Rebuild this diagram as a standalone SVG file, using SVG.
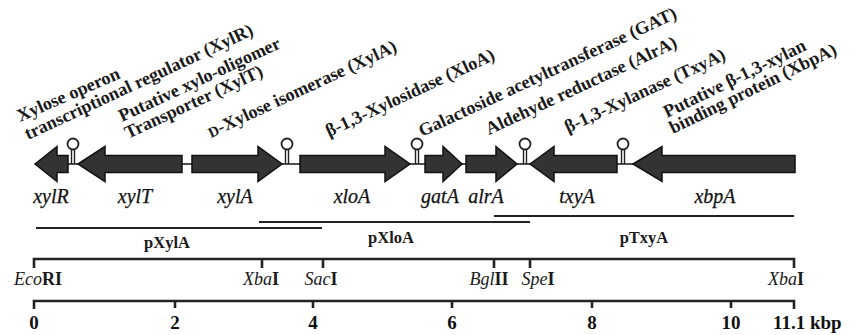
<svg xmlns="http://www.w3.org/2000/svg" width="860" height="335" viewBox="0 0 860 335">
<style>
.gene{fill:#333;stroke:#111;stroke-width:1.5;stroke-linejoin:miter}
.bb{stroke:#222;stroke-width:1.6;fill:none}
.term circle{fill:#fff;stroke:#222;stroke-width:1.8}
.term line{stroke:#222;stroke-width:1.4}
.lab{font-family:"Liberation Serif","Times New Roman",serif;font-weight:bold;font-size:18.2px;fill:#1a1a1a}
.gn{font-family:"Liberation Serif","Times New Roman",serif;font-style:italic;font-size:20px;fill:#111;stroke:#111;stroke-width:0.25}
.pl{font-family:"Liberation Serif","Times New Roman",serif;font-weight:bold;font-size:16.5px;fill:#1a1a1a}
.re{font-family:"Liberation Serif","Times New Roman",serif;font-size:18px;fill:#1a1a1a}
.re .b{font-weight:bold}
.num{font-family:"Liberation Serif","Times New Roman",serif;font-weight:bold;font-size:19px;fill:#111}
.ln{stroke:#222;stroke-width:2;fill:none}
.rl{stroke:#222;stroke-width:2.6;fill:none}
</style>

<g id="labels">
<text class="lab" transform="translate(20,122) rotate(-23.5)">Xylose operon</text>
<text class="lab" transform="translate(28,140) rotate(-25)">transcriptional regulator (XylR)</text>
<text class="lab" transform="translate(122,122) rotate(-25)">Putative xylo-oligomer</text>
<text class="lab" transform="translate(128,139) rotate(-25)">Transporter (XylT)</text>
<text class="lab" transform="translate(211,138) rotate(-25)"><tspan font-size="14.5">D</tspan>-Xylose isomerase (XylA)</text>
<text class="lab" transform="translate(329,137) rotate(-25)">β-1,3-Xylosidase (XloA)</text>
<text class="lab" transform="translate(422,137) rotate(-25)">Galactoside acetyltransferase (GAT)</text>
<text class="lab" transform="translate(489,135) rotate(-25)">Aldehyde reductase (AlrA)</text>
<text class="lab" transform="translate(568,133) rotate(-25)">β-1,3-Xylanase (TxyA)</text>
<text class="lab" transform="translate(667,118) rotate(-26)">Putative β-1,3-xylan</text>
<text class="lab" transform="translate(673,134) rotate(-26)">binding protein (XbpA)</text>
</g>

<g id="connectors">
<line class="bb" x1="66" y1="164" x2="80" y2="164"/>
<line class="bb" x1="181" y1="164" x2="193" y2="164"/>
<line class="bb" x1="281" y1="164" x2="301" y2="164"/>
<line class="bb" x1="409" y1="164" x2="426" y2="164"/>
<line class="bb" x1="461" y1="164" x2="467" y2="164"/>
<line class="bb" x1="516" y1="164" x2="531" y2="164"/>
<line class="bb" x1="616" y1="164" x2="634" y2="164"/>
</g>

<g id="terminators" class="term">
<g id="t1"><line x1="71.5" y1="149" x2="71.5" y2="164"/><line x1="74.5" y1="149" x2="74.5" y2="164"/><circle cx="73" cy="144" r="5.5"/></g>
<g id="t2"><line x1="285.5" y1="149" x2="285.5" y2="164"/><line x1="288.5" y1="149" x2="288.5" y2="164"/><circle cx="287" cy="144" r="5.5"/></g>
<g id="t3"><line x1="415.5" y1="149" x2="415.5" y2="164"/><line x1="418.5" y1="149" x2="418.5" y2="164"/><circle cx="417" cy="144" r="5.5"/></g>
<g id="t4"><line x1="523.5" y1="149" x2="523.5" y2="164"/><line x1="526.5" y1="149" x2="526.5" y2="164"/><circle cx="525" cy="144" r="5.5"/></g>
<g id="t5"><line x1="621.5" y1="149" x2="621.5" y2="164"/><line x1="624.5" y1="149" x2="624.5" y2="164"/><circle cx="623" cy="144" r="5.5"/></g>
</g>

<g id="xylR"><path class="gene" d="M35,164 L57,146.5 L57,155.5 L68,155.5 L68,172.5 L57,172.5 L57,181.5 Z"/><text class="gn" x="51" y="203" text-anchor="middle">xylR</text></g>
<g id="xylT"><path class="gene" d="M78,164 L105,146.5 L105,155.5 L182,155.5 L182,172.5 L105,172.5 L105,181.5 Z"/><text class="gn" x="135" y="203" text-anchor="middle">xylT</text></g>
<g id="xylA"><path class="gene" d="M192,155.5 L258,155.5 L258,146.5 L282,164 L258,181.5 L258,172.5 L192,172.5 Z"/><text class="gn" x="235" y="203" text-anchor="middle">xylA</text></g>
<g id="xloA"><path class="gene" d="M300,155.5 L385,155.5 L385,146.5 L410,164 L385,181.5 L385,172.5 L300,172.5 Z"/><text class="gn" x="352" y="203" text-anchor="middle">xloA</text></g>
<g id="gatA"><path class="gene" d="M425,155.5 L443,155.5 L443,146.5 L462,164 L443,181.5 L443,172.5 L425,172.5 Z"/><text class="gn" x="440" y="203" text-anchor="middle">gatA</text></g>
<g id="alrA"><path class="gene" d="M466,155.5 L496,155.5 L496,146.5 L517,164 L496,181.5 L496,172.5 L466,172.5 Z"/><text class="gn" x="486" y="203" text-anchor="middle">alrA</text></g>
<g id="txyA"><path class="gene" d="M530,164 L554,146.5 L554,155.5 L617,155.5 L617,172.5 L554,172.5 L554,181.5 Z"/><text class="gn" x="577" y="203" text-anchor="middle">txyA</text></g>
<g id="xbpA"><path class="gene" d="M633,164 L662,146.5 L662,155.5 L795,155.5 L795,172.5 L662,172.5 L662,181.5 Z"/><text class="gn" x="715" y="203" text-anchor="middle">xbpA</text></g>

<g id="plasmids">
<line class="ln" x1="36" y1="228" x2="322" y2="228"/>
<text class="pl" x="167" y="248" text-anchor="middle">pXylA</text>
<line class="ln" x1="259" y1="222" x2="530" y2="222"/>
<text class="pl" x="391" y="243" text-anchor="middle">pXloA</text>
<line class="ln" x1="494" y1="216" x2="794" y2="216"/>
<text class="pl" x="644" y="243" text-anchor="middle">pTxyA</text>
</g>

<g id="restriction-map">
<path class="rl" d="M34,268 L34,259 L794,259 L794,268"/>
<line class="rl" x1="262" y1="259" x2="262" y2="268"/>
<line class="rl" x1="323" y1="259" x2="323" y2="268"/>
<line class="rl" x1="494" y1="259" x2="494" y2="268"/>
<line class="rl" x1="530" y1="259" x2="530" y2="268"/>
<text class="re" x="14" y="285"><tspan font-style="italic">Eco</tspan><tspan class="b">RI</tspan></text>
<text class="re" x="261" y="285" text-anchor="middle"><tspan font-style="italic">Xba</tspan><tspan class="b">I</tspan></text>
<text class="re" x="321" y="285" text-anchor="middle"><tspan font-style="italic">Sac</tspan><tspan class="b">I</tspan></text>
<text class="re" x="489" y="285" text-anchor="middle"><tspan font-style="italic">Bgl</tspan><tspan class="b">II</tspan></text>
<text class="re" x="538" y="285" text-anchor="middle"><tspan font-style="italic">Spe</tspan><tspan class="b">I</tspan></text>
<text class="re" x="786" y="285" text-anchor="middle"><tspan font-style="italic">Xba</tspan><tspan class="b">I</tspan></text>
</g>

<g id="scale">
<path class="rl" d="M34,309 L34,301 L794,301 L794,309"/>
<line class="rl" x1="175" y1="301" x2="175" y2="308"/>
<line class="rl" x1="313" y1="301" x2="313" y2="308"/>
<line class="rl" x1="452" y1="301" x2="452" y2="308"/>
<line class="rl" x1="592" y1="301" x2="592" y2="308"/>
<line class="rl" x1="731" y1="301" x2="731" y2="308"/>
<text class="num" x="34" y="329" text-anchor="middle">0</text>
<text class="num" x="175" y="329" text-anchor="middle">2</text>
<text class="num" x="313" y="329" text-anchor="middle">4</text>
<text class="num" x="452" y="329" text-anchor="middle">6</text>
<text class="num" x="592" y="329" text-anchor="middle">8</text>
<text class="num" x="731" y="329" text-anchor="middle">10</text>
<text class="num" x="773" y="329">11.1 kbp</text>
</g>
</svg>
